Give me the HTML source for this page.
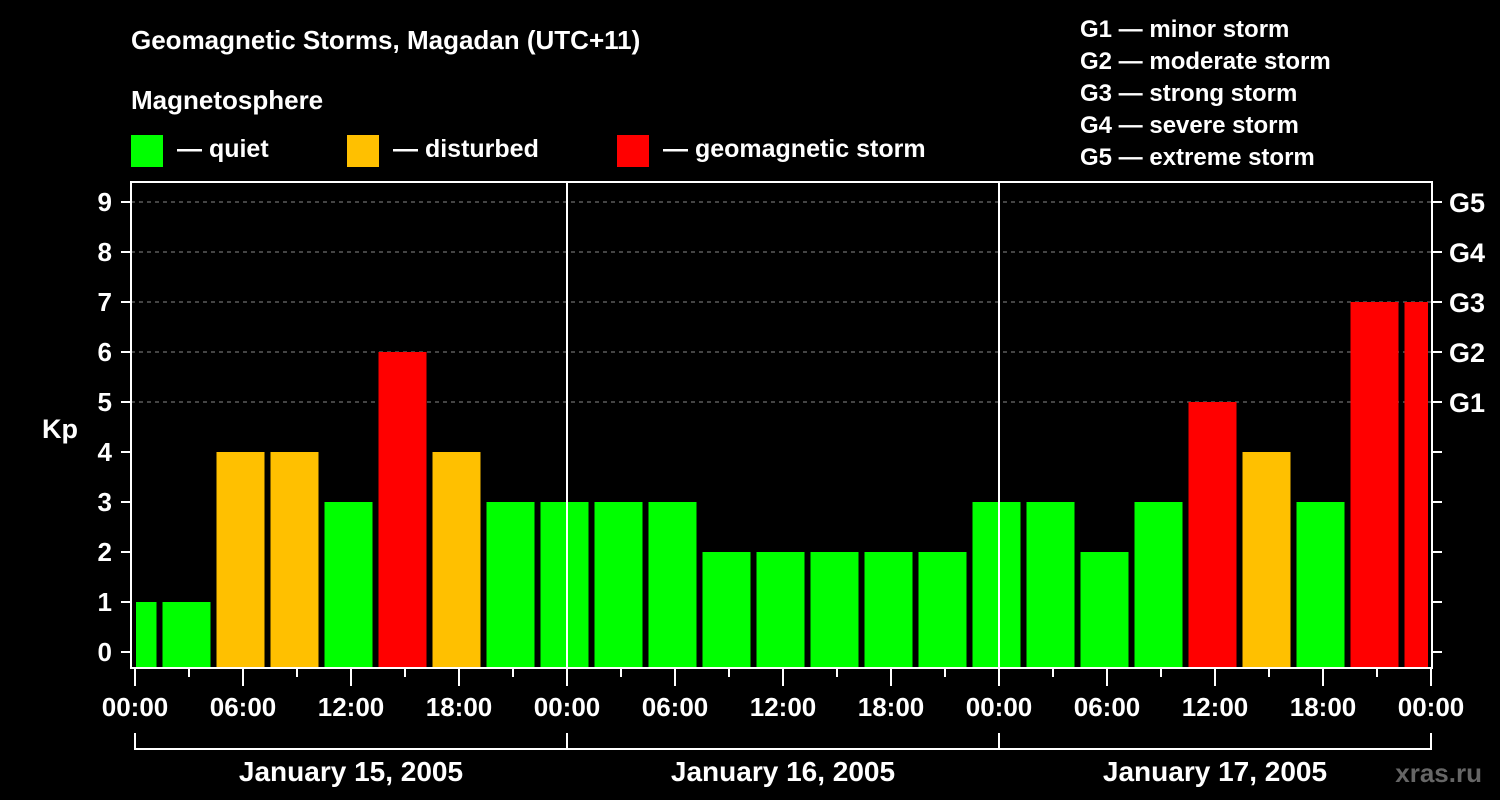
<!DOCTYPE html>
<html><head><meta charset="utf-8"><style>
html,body{margin:0;padding:0;background:#000;}
svg{display:block;font-family:"Liberation Sans",Arial,sans-serif;font-weight:bold;}
</style></head><body>
<svg id="chart" width="1500" height="800" viewBox="0 0 1500 800">
<rect width="1500" height="800" fill="#000"/>
<text x="131" y="49" fill="#fff" font-size="26">Geomagnetic Storms, Magadan (UTC+11)</text>
<text x="131" y="109" fill="#fff" font-size="26">Magnetosphere</text>
<g><rect x="131" y="135" width="32" height="32" fill="#00ff00"/><text x="177" y="157" fill="#fff" font-size="25">— quiet</text></g>
<g><rect x="347" y="135" width="32" height="32" fill="#ffc000"/><text x="393" y="157" fill="#fff" font-size="25">— disturbed</text></g>
<g><rect x="617" y="135" width="32" height="32" fill="#ff0000"/><text x="663" y="157" fill="#fff" font-size="25">— geomagnetic storm</text></g>
<g fill="#fff" font-size="24">
<text x="1080" y="37">G1 — minor storm</text>
<text x="1080" y="69">G2 — moderate storm</text>
<text x="1080" y="101">G3 — strong storm</text>
<text x="1080" y="133">G4 — severe storm</text>
<text x="1080" y="165">G5 — extreme storm</text>
</g>
<text x="42" y="438" fill="#fff" font-size="27">Kp</text>
<text x="1482" y="782" fill="#666" font-size="26" text-anchor="end">xras.ru</text>
<g id="plot"></g>
</svg>
<script>
const kpValues=[1,1,4,4,3,6,4,3,3,3,3,2,2,2,2,2,3,3,2,3,5,4,3,7,7];
const kpTicks=[0,1,2,3,4,5,6,7,8,9];
const gLabels=["G1","G2","G3","G4","G5"];
const hourLabels=["00:00","06:00","12:00","18:00"];
const dayLabels=["January 15, 2005","January 16, 2005","January 17, 2005"];
const NS="http://www.w3.org/2000/svg";
const plot=document.getElementById('plot');
const X0=135,PX_H=18,Y0=652,PX_K=50,L=131,R=1432,T=182,B=668;
const xOf=h=>X0+h*PX_H;
const yOf=k=>Y0-k*PX_K;
function mk(tag,attrs,parent){const e=document.createElementNS(NS,tag);for(const k in attrs)e.setAttribute(k,attrs[k]);(parent||plot).appendChild(e);return e;}
// grid
for(let k=5;k<=9;k++){
 const g=mk('line',{x1:L,x2:R,y1:yOf(k),y2:yOf(k),stroke:'#888','stroke-dasharray':'4,4','stroke-width':1});
 
 
}
// bars
const cp=mk('clipPath',{id:'cp'});mk('rect',{x:L+5,y:T,width:R-L-9,height:B-T},cp);
const bg=mk('g',{'clip-path':'url(#cp)'});
kpValues.forEach((v,i)=>{
 const c=v>=5?'#ff0000':(v>=4?'#ffc000':'#00ff00');
 const x=xOf(3*i-1.5)+0.5;
 const r=mk('rect',{x:x,y:yOf(v),width:48,height:B-1-yOf(v),fill:c},bg);
 
 
});
// day separators
[1,2].forEach(d=>{const l=mk('line',{x1:xOf(24*d),x2:xOf(24*d),y1:T,y2:B,stroke:'#fff','stroke-width':2});
 
 });
// frame
const fr=mk('rect',{x:L,y:T,width:R-L,height:B-T,fill:'none',stroke:'#fff','stroke-width':2});


// y ticks
kpTicks.forEach(k=>{
 mk('line',{x1:L-10,x2:L,y1:yOf(k),y2:yOf(k),stroke:'#fff','stroke-width':2});
 mk('line',{x1:R,x2:R+10,y1:yOf(k),y2:yOf(k),stroke:'#fff','stroke-width':2});
 const t=mk('text',{x:112,y:yOf(k)+9,fill:'#fff','font-size':26,'text-anchor':'end'});t.textContent=k;
 
 
});
gLabels.forEach((g,i)=>{const t=mk('text',{x:1449,y:yOf(5+i)+10,fill:'#fff','font-size':27});t.textContent=g;
 
 });
// x ticks
for(let h=0;h<=72;h+=3){
 const major=h%6===0;
 mk('line',{x1:xOf(h),x2:xOf(h),y1:B,y2:major?686:677,stroke:'#fff','stroke-width':2});
 if(major){const t=mk('text',{x:xOf(h),y:716,fill:'#fff','font-size':26,'text-anchor':'middle'});t.textContent=hourLabels[(h/6)%4];
  
  }
}
// day bracket
mk('line',{x1:xOf(0),x2:xOf(72),y1:749,y2:749,stroke:'#fff','stroke-width':2});
for(let d=0;d<=3;d++)mk('line',{x1:xOf(24*d),x2:xOf(24*d),y1:733,y2:750,stroke:'#fff','stroke-width':2});
dayLabels.forEach((s,d)=>{const t=mk('text',{x:xOf(24*d+12),y:781,fill:'#fff','font-size':28,'text-anchor':'middle'});t.textContent=s;
 
 });
</script>
</body></html>
